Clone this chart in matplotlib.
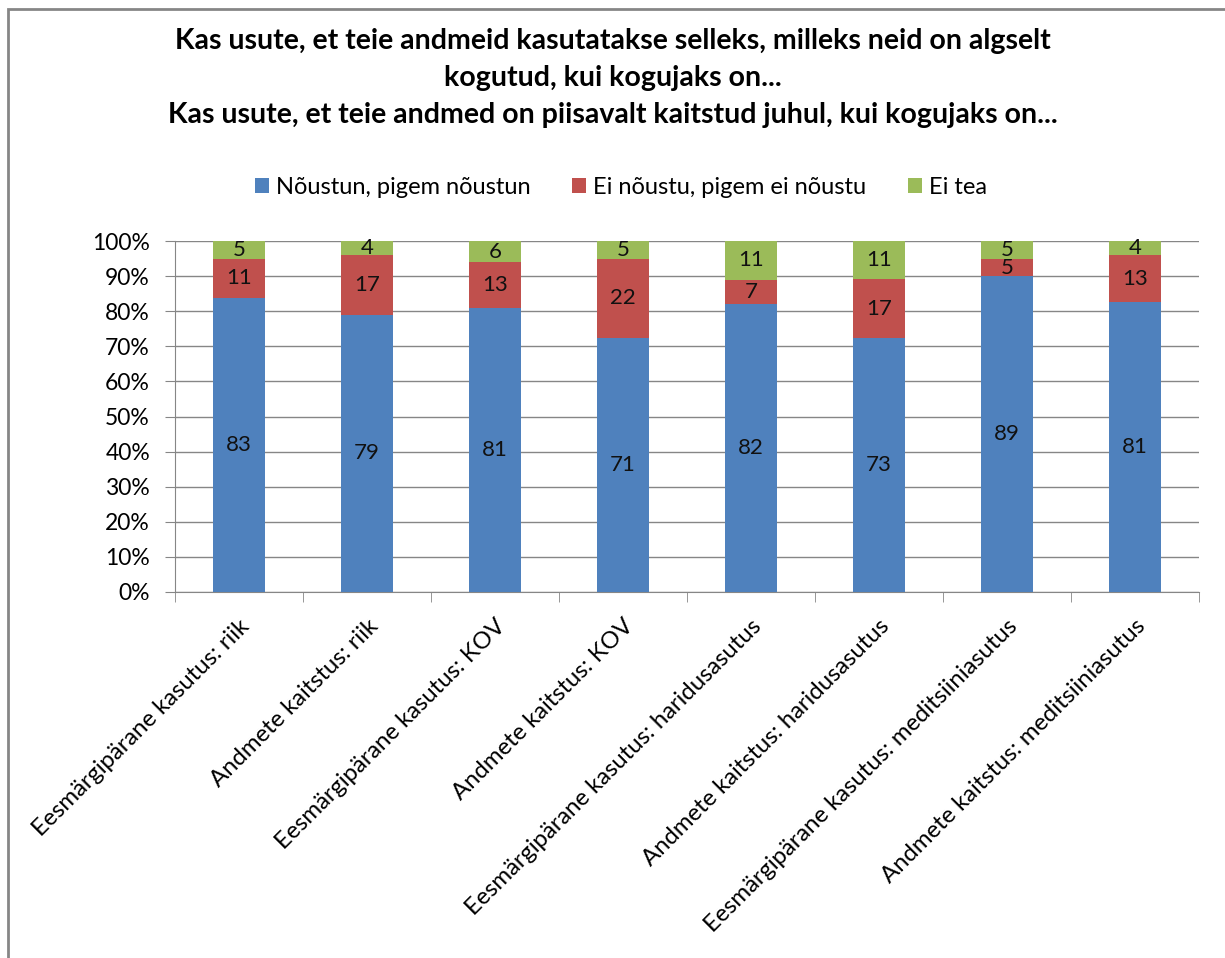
import numpy as np
import matplotlib.pyplot as plt
import matplotlib.transforms as mtransforms
from matplotlib.patches import Rectangle

# Andmed
kategooriad = ['Eesmärgipärane kasutus: riik', 'Andmete kaitstus: riik',
               'Eesmärgipärane kasutus: KOV', 'Andmete kaitstus: KOV',
               'Eesmärgipärane kasutus: haridusasutus', 'Andmete kaitstus: haridusasutus',
               'Eesmärgipärane kasutus: meditsiiniasutus', 'Andmete kaitstus: meditsiiniasutus']
noustun = [83, 79, 81, 71, 82, 73, 89, 81]
ei_noustu = [11, 17, 13, 22, 7, 17, 5, 13]
ei_tea = [5, 4, 6, 5, 11, 11, 5, 4]
seeriad = ['Nõustun, pigem nõustun', 'Ei nõustu, pigem ei nõustu', 'Ei tea']
varvid = ['#4F81BD', '#C0504D', '#9BBB59']
pealkiri = ('Kas usute, et teie andmeid kasutatakse selleks, milleks neid on algselt\n'
            'kogutud, kui kogujaks on...\n'
            'Kas usute, et teie andmed on piisavalt kaitstud juhul, kui kogujaks on...')

plt.rcParams['font.family'] = ['Lato', 'DejaVu Sans']

vaartused = np.array([noustun, ei_noustu, ei_tea], dtype=float)
protsendid = vaartused / vaartused.sum(axis=0) * 100

fig = plt.figure(figsize=(12.25, 9.58), dpi=100)
ax = fig.add_axes([175 / 1225, 1 - 592 / 958, 1024 / 1225, 351 / 958])

# Raam ümber joonise
fig.patches.append(Rectangle((8 / 1225, -0.05), 1.1, 1 - 9 / 958 + 0.05, transform=fig.transFigure,
                             fill=False, edgecolor='#868686', linewidth=2))

x = np.arange(len(kategooriad))
alus = np.zeros(len(kategooriad))
for i in range(3):
    ax.bar(x, protsendid[i], bottom=alus, width=0.4, color=varvid[i], label=seeriad[i], zorder=3)
    for j in range(len(kategooriad)):
        ax.text(x[j], alus[j] + protsendid[i][j] / 2, str(int(vaartused[i][j])),
                ha='center', va='center', fontsize=16, color='#111111', zorder=4)
    alus += protsendid[i]

ax.set_xlim(-0.5, len(kategooriad) - 0.5)
ax.set_ylim(0, 100)
ax.set_yticks(np.arange(0, 101, 10))
ax.set_yticklabels([f'{v}%' for v in range(0, 101, 10)], fontsize=16.5)
ax.yaxis.grid(True, color='#868686', linewidth=1, zorder=0)
ax.set_xticks(x)
ax.set_xticklabels(kategooriad, rotation=45, ha='right', va='top', rotation_mode='anchor', fontsize=17.2)
nihe = mtransforms.ScaledTranslation(-5 / 100, 0, fig.dpi_scale_trans)
for silt in ax.get_xticklabels():
    silt.set_transform(silt.get_transform() + nihe)
ax.tick_params(axis='x', length=0, pad=17)
ax.set_xticks(np.arange(-0.5, len(kategooriad)), minor=True)
ax.tick_params(axis='x', which='minor', length=7, color='#868686')
ax.tick_params(axis='y', length=7, color='#868686', pad=11)
for s in ['top', 'right']:
    ax.spines[s].set_visible(False)
for s in ['left', 'bottom']:
    ax.spines[s].set_color('#868686')

fig.text(0.5, 1 - 78 / 958, pealkiri, ha='center', va='center', fontsize=20.5, fontweight='bold',
         linespacing=1.5)
fig.legend(loc='center', bbox_to_anchor=(621 / 1225, 1 - 187 / 958), ncol=3, frameon=False,
           fontsize=17, handlelength=0.6, handleheight=0.6, columnspacing=1.75, handletextpad=0.3)

fig.savefig('out.png', dpi=100)
